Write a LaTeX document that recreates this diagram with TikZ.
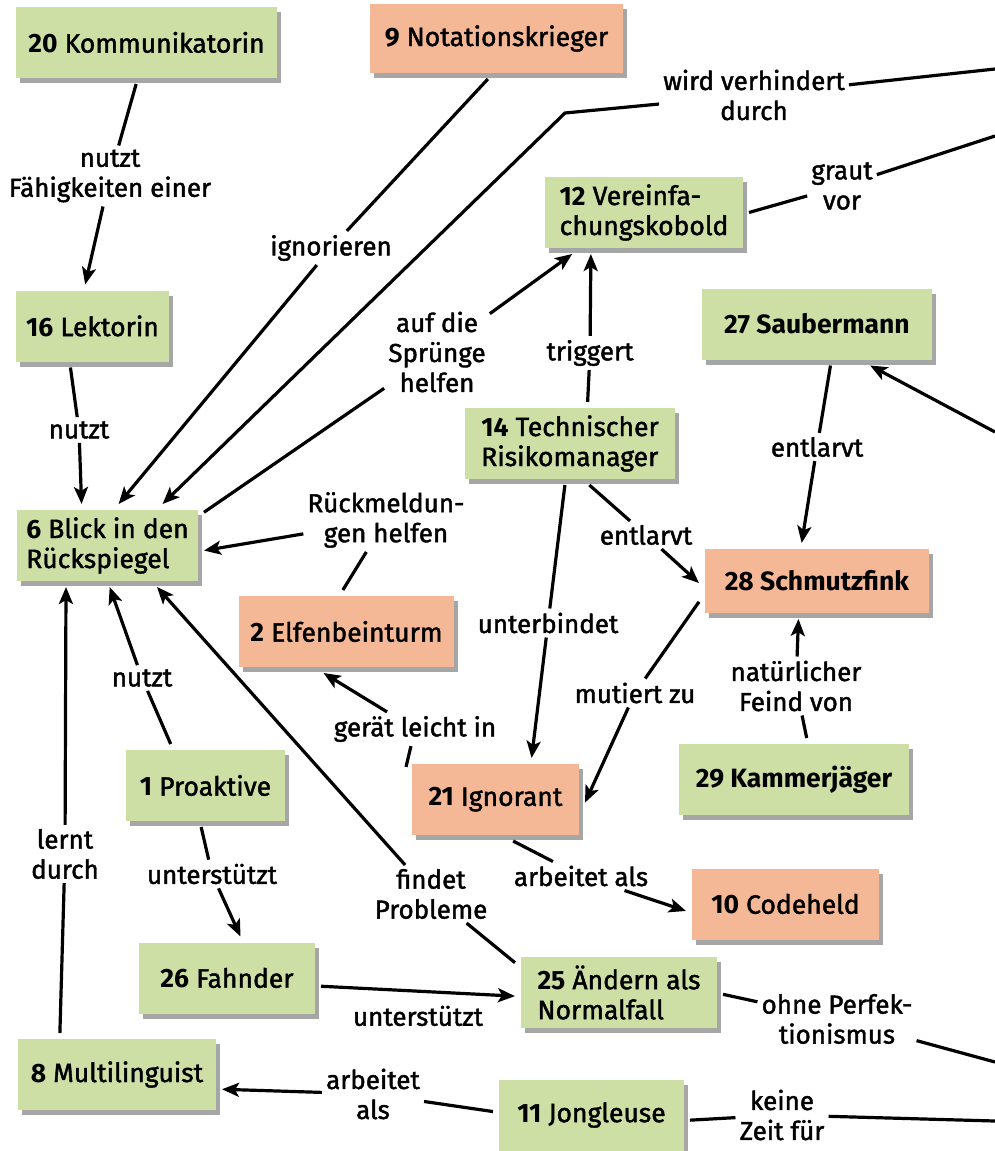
\documentclass[tikz,border=0pt]{standalone}
\usepackage{fontspec}
\setmainfont{Fira Sans}[UprightFeatures={FakeBold=1.6}]
\usetikzlibrary{arrows.meta,shadows}

\definecolor{patgreen}{RGB}{206,223,166}
\definecolor{antisalmon}{RGB}{245,184,151}

\begin{document}
\begin{tikzpicture}[x=1pt,y=-1pt,
	box/.style={minimum height=71pt,inner sep=0pt,outer sep=6pt,font=\fontsize{26.5}{30}\selectfont,
		drop shadow={shadow xshift=4pt,shadow yshift=-5pt,opacity=.35,fill=black}},
	pat/.style={box,fill=patgreen},
	anti/.style={box,fill=antisalmon},
	lbl/.style={inner sep=4pt,align=center,font=\fontsize{26}{30}\selectfont},
	con/.style={line width=3.2pt},
	arr/.style={con,-{Stealth[length=17pt,width=14pt,inset=4pt]}}]
	\path[use as bounding box] (0,0) rectangle (995,1151);

	% Muster (gruen) und Anti-Muster (lachs)
	\node[pat,minimum width=261pt] (kom) at (146.5,42.5) {\textbf{20} Kommunikatorin};
	\node[anti,minimum width=253pt,minimum height=69pt] (nota) at (496.5,38.5) {\textbf{9} Notationskrieger};
	\node[pat,minimum width=198pt,align=left] (verein) at (644,212.5) {\textbf{12} Vereinfa-\\chungskobold};
	\node[pat,minimum width=153pt] (lek) at (92.5,326) {\textbf{16} Lektorin};
	\node[pat,minimum width=230pt] (sauber) at (817,324) {\textbf{27 Saubermann}};
	\node[pat,minimum width=210pt,align=left] (risiko) at (570,443.5) {\textbf{14} Technischer\\Risikomanager};
	\node[pat,minimum width=181pt,align=left] (blick) at (107.5,545.5) {\textbf{6} Blick in den\\Rückspiegel};
	\node[anti,minimum width=224pt,minimum height=64pt] (schmutz) at (817,581) {\textbf{28 Schmutzfink}};
	\node[anti,minimum width=215pt] (elfen) at (346.5,631.5) {\textbf{2} Elfenbeinturm};
	\node[pat,minimum width=159pt] (proaktiv) at (205.5,785.5) {\textbf{1} Proaktive};
	\node[anti,minimum width=167pt] (ignorant) at (495.5,799.5) {\textbf{21} Ignorant};
	\node[pat,minimum width=230pt] (kammer) at (794,779.5) {\textbf{29 Kammerjäger}};
	\node[anti,minimum width=187pt] (codeheld) at (785.5,904) {\textbf{10} Codeheld};
	\node[pat,minimum width=176pt] (fahnder) at (227,978) {\textbf{26} Fahnder};
	\node[pat,minimum width=196pt,align=left] (aendern) at (619,992.5) {\textbf{25} Ändern als\\Normalfall};
	\node[pat,minimum width=198pt] (multi) at (117,1074.5) {\textbf{8} Multilinguist};
	\node[pat,minimum width=185pt] (jongleuse) at (591.5,1115) {\textbf{11} Jongleuse};

	% lose Enden am rechten Rand
	\coordinate (rand1) at (995,69);
	\coordinate (rand2) at (995,136);
	\coordinate (rand3) at (995,432);
	\coordinate (rand4) at (995,1062);
	\coordinate (rand5) at (995,1121);
	\coordinate (knick) at (565,113);

	% Beschriftungen
	\node[lbl] (l1) at (110,176) {nutzt\\Fähigkeiten einer};
	\node[lbl] (l2) at (79,430) {nutzt};
	\node[lbl] (l3) at (331,248) {ignorieren};
	\node[lbl] (l4) at (754,95) {wird verhindert\\durch};
	\node[lbl] (l5) at (842,186) {graut\\vor};
	\node[lbl] (l6) at (437,352) {auf die\\Sprünge\\helfen};
	\node[lbl] (l7) at (590,353) {triggert};
	\node[lbl] (l8) at (386,520) {Rückmeldun-\\gen helfen};
	\node[lbl] (l9) at (646,535) {entlarvt};
	\node[lbl] (l10) at (817,447) {entlarvt};
	\node[lbl] (l12) at (548,623) {unterbindet};
	\node[lbl] (l13) at (635,693) {mutiert zu};
	\node[lbl] (l14) at (796,686) {natürlicher\\Feind von};
	\node[lbl] (l15) at (415,729) {gerät leicht in};
	\node[lbl] (l16) at (142,678) {nutzt};
	\node[lbl] (l17) at (431,894) {findet\\Probleme};
	\node[lbl] (l18) at (212,874) {unterstützt};
	\node[lbl] (l20) at (65,854) {lernt\\durch};
	\node[lbl] (l21) at (373,1094) {arbeitet\\als};
	\node[lbl] (l22) at (581,876) {arbeitet als};
	\node[lbl] (l23) at (837,1019) {ohne Perfek-\\tionismus};
	\node[lbl] (l24) at (782,1115) {keine\\Zeit für};

	% Verbindungen
	\draw[con] (kom.-104) -- (l1);
	\draw[arr] (l1) -- (lek.100);
	\draw[con] (lek.-118) -- (l2);
	\draw[arr] (l2) -- (blick.122);
	\draw[con] (nota.-102) -- (l3);
	\draw[arr] (l3) -- (blick.75);
	\draw[con] (rand1) -- (l4);
	\draw[arr] (l4) -- (knick) -- (blick.37);
	\draw[con] (verein.east) -- (l5);
	\draw[con] (l5) -- (rand2);
	\draw[con] (blick.19) -- (l6);
	\draw[arr] (l6) -- (verein.-150.7);
	\draw[con] (risiko.67.6) -- (l7);
	\draw[arr] (l7) -- (verein.-142.5);
	\draw[con] (elfen.95) -- (l8);
	\draw[arr] (l8) -- (blick.-3);
	\draw[con] (risiko.-65.4) -- (l9);
	\draw[arr] (l9) -- (schmutz.-179);
	\draw[con] (sauber.-72.6) -- (l10);
	\draw[arr] (l10) -- (schmutz.112.8);
	\draw[arr] (rand3) -- (sauber.-38);
	\draw[con] (risiko.-97) -- (l12);
	\draw[arr] (l12) -- (ignorant.49.5);
	\draw[con] (schmutz.-170.9) -- (l13);
	\draw[arr] (l13) -- (ignorant.-2.2);
	\draw[con] (kammer.73.9) -- (l14);
	\draw[arr] (l14) -- (schmutz.-116.6);
	\draw[con] (ignorant.160.3) -- (l15);
	\draw[arr] (l15) -- (elfen.-119.5);
	\draw[con] (proaktiv.130) -- (l16);
	\draw[arr] (l16) -- (blick.-87);
	\draw[con] (aendern.164.7) -- (l17);
	\draw[arr] (l17) -- (blick.-40.7);
	\draw[con] (proaktiv.-96) -- (l18);
	\draw[arr] (l18) -- (fahnder.72.6);
	\draw[arr] (fahnder.-5.5) -- node[lbl,below=9pt] (l19) {unterstützt} (aendern.-178.6);
	\draw[con] (multi.144.9) -- (l20);
	\draw[arr] (l20) -- (blick.-135);
	\draw[con] (jongleuse.178.8) -- (l21);
	\draw[arr] (l21) -- (multi.-8.1);
	\draw[con] (ignorant.-67) -- (l22);
	\draw[arr] (l22) -- (codeheld.-176.4);
	\draw[con] (aendern.-1.4) -- (l23);
	\draw[con] (l23) -- (rand4);
	\draw[con] (jongleuse.-3) -- (l24);
	\draw[con] (l24) -- (rand5);
\end{tikzpicture}
\end{document}
